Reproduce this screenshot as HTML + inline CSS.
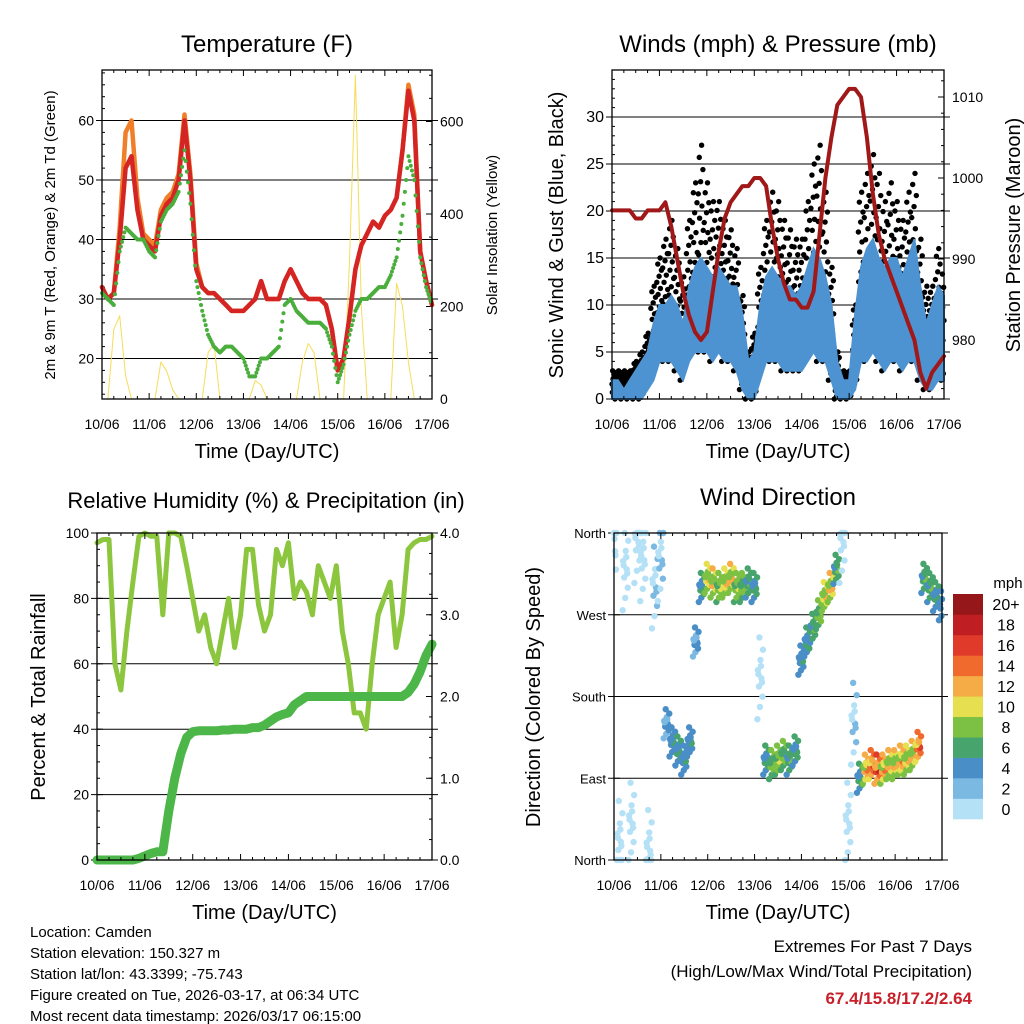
<!DOCTYPE html>
<html><head><meta charset="utf-8">
<style>
html,body{margin:0;padding:0;background:#fff;}
svg{display:block;font-family:"Liberation Sans",sans-serif;}
</style></head>
<body>
<svg id="c" width="1024" height="1024" xmlns="http://www.w3.org/2000/svg"></svg>
<script>
// ---- data (3-hourly samples, 10/06 00Z to 17/06 00Z) ----
const dayLabels=["10/06","11/06","12/06","13/06","14/06","15/06","16/06","17/06"];
const temp2m=[32,30,31,40,52,54,45,40, 39,38,44,46,47,50,60,50, 35,32,31,31,30,29,28,28, 28,29,30,33,30,30,30,33, 35,33,31,30,30,30,29,25, 18,20,27,35,39,41,43,42, 44,45,47,55,65,60,38,33, 29];
const temp9m=[32,30,31,42,58,60,47,41, 40,39,45,47,48,51,61,51, 36,32,31,31,30,29,28,28, 28,29,30,33,30,30,30,33, 35,33,31,30,30,30,29,25, 18,20,27,35,39,41,43,42, 44,45,47,55,66,61,38,33, 29];
const dewpt=[31,30,29,38,42,41,40,40, 38,37,43,45,46,48,55,46, 33,28,24,22,21,22,22,21, 20,17,17,20,20,21,22,29, 30,28,27,26,26,26,25,22, 16,19,24,28,30,30,31,32, 32,34,37,44,54,50,37,32, 29];
const solar=[0,0,150,180,50,0,0,0, 0,0,80,60,20,0,0,0, 0,0,100,120,0,0,0,0, 0,0,40,30,0,0,0,0, 0,0,80,120,100,0,0,0, 0,0,300,700,200,0,0,0, 0,0,250,200,80,0,0,0, 0];
const windHigh=[2,2,1,2,3,4,5,8, 10,10,11,10,8,12,14,15, 14,13,14,13,12,12,9,4, 5,10,13,14,13,12,12,11, 12,14,16,15,13,10,4,2, 2,9,14,16,17,15,14,15, 15,13,15,17,12,8,10,12, 11];
const windLow=[0,0,0,0,0,0,1,2, 4,4,4,3,2,4,5,5, 5,4,5,4,4,3,1,0, 0,2,4,4,4,3,3,3, 3,4,5,4,4,2,0,0, 0,1,4,4,5,4,3,4, 4,3,4,4,2,1,1,2, 2];
const windGust=[3,3,3,3,4,5,7,12, 15,17,19,16,13,19,23,27, 23,21,21,19,18,16,11,5, 7,14,19,22,21,19,18,17, 17,21,25,27,22,14,5,3, 3,10,22,24,26,24,21,23, 21,19,22,24,17,12,12,16, 14];
const pressure=[996,996,996,996,995,995,996,996, 996,997,994,990,986,983,981,980, 981,986,991,995,997,998,999,999, 1000,1000,999,994,990,987,985,985, 984,984,986,993,1000,1005,1009,1010, 1011,1011,1010,1005,998,993,990,988, 986,984,982,980,976,974,976,977, 978];
const rh=[97,98,98,60,52,70,85,99, 100,99,99,75,100,100,99,90, 80,70,75,65,60,70,80,65, 75,95,95,78,70,75,95,90, 97,80,85,82,75,90,85,80, 90,70,60,45,45,40,60,75, 80,85,65,75,95,97,98,98, 99];
const precip=[0,0,0,0,0,0,0,0.02, 0.05,0.08,0.1,0.1,0.6,1.0,1.3,1.5, 1.57,1.58,1.58,1.58,1.58,1.59,1.59,1.6, 1.6,1.6,1.62,1.62,1.65,1.7,1.75,1.78, 1.8,1.9,1.95,2.0,2.0,2.0,2.0,2.0, 2.0,2.0,2.0,2.0,2.0,2.0,2.0,2.0, 2.0,2.0,2.0,2.0,2.05,2.15,2.3,2.5, 2.64];
const windDir=[340,20,320,40,350,330,10,300, 330,150,130,120,110,130,240,300, 310,305,300,305,310,300,300,305, 300,200,110,105,110,115,110,120, 220,240,255,270,290,300,320,350, 40,150,90,100,105,100,100,105, 105,110,110,115,125,310,300,290, 280];
const dirSpeed=[1,1,1,1,1,1,1,2, 2,4,5,6,5,5,4,6, 10,11,9,10,11,9,8,7, 6,1,6,8,9,8,7,6, 5,6,7,8,10,11,7,1, 1,2,6,12,14,15,12,11, 11,12,10,11,14,7,7,6, 5];
const cbLabels=["0","2","4","6","8","10","12","14","16","18","20+"];
const cbColors=["#b5e1f7","#7bb9e3","#4a8ec8","#47a46c","#7cc143","#e6e051","#f5ab46","#ef6a2c","#df3a2a","#bf1e22","#951719"];

const NS="http://www.w3.org/2000/svg";
const svg=document.getElementById('c');
function el(tag,attrs,parent){const e=document.createElementNS(NS,tag);for(const k in attrs)e.setAttribute(k,attrs[k]);(parent||svg).appendChild(e);return e;}
function txt(x,y,s,size,anchor,parent,extra){const t=el('text',Object.assign({x:x,y:y,'font-size':size,'text-anchor':anchor||'middle',fill:'#000'},extra||{}),parent);t.textContent=s;return t;}
const N=temp2m.length;
function dayOf(i){return i*7/(N-1);}

function panel(name,x0,x1,y0,y1){
  const g=el('g',{});
  
  
  return {g,x0,x1,y0,y1,xs:d=>x0+(x1-x0)*d/7};
}
function frame(P){
  el('rect',{x:P.x0,y:P.y0,width:P.x1-P.x0,height:P.y1-P.y0,fill:'none',stroke:'#000','stroke-width':1.3},P.g);
  const xa=el('g',{},P.g);
  
  
  for(let d=0;d<=7;d++){
    const x=P.xs(d);
    el('line',{x1:x,x2:x,y1:P.y1,y2:P.y1-6,stroke:'#000'},xa);
    el('line',{x1:x,x2:x,y1:P.y0,y2:P.y0+6,stroke:'#000'},xa);
    const t=txt(x,P.y1+30,dayLabels[d],14,'middle',xa);
    
    
    if(d<7){for(let h=1;h<4;h++){const xm=P.xs(d+h/4);el('line',{x1:xm,x2:xm,y1:P.y1,y2:P.y1-3,stroke:'#000'},xa);el('line',{x1:xm,x2:xm,y1:P.y0,y2:P.y0+3,stroke:'#000'},xa);}}
  }
  const xt=txt((P.x0+P.x1)/2,P.y1+59,'Time (Day/UTC)',20,'middle',P.g);
  
  
}
function leftAxis(P,ys,ticks,fmt,grid,minor,size){
  const a=el('g',{},P.g);
  
  
  ticks.forEach(v=>{const y=ys(v);
    if(grid) el('line',{x1:P.x0-6,x2:P.x1+6,y1:y,y2:y,stroke:'#000','stroke-width':1},a);
    el('line',{x1:P.x0,x2:P.x0+6,y1:y,y2:y,stroke:'#000'},a);
    const t=txt(P.x0-8,y+5,fmt(v),size||14,'end',a);
    
    });
  (minor||[]).forEach(v=>{const y=ys(v);el('line',{x1:P.x0,x2:P.x0+3,y1:y,y2:y,stroke:'#000'},a);});
}
function rightAxis(P,ys,ticks,fmt,minor){
  const a=el('g',{},P.g);
  
  
  ticks.forEach(v=>{const y=ys(v);
    el('line',{x1:P.x1,x2:P.x1-6,y1:y,y2:y,stroke:'#000'},a);
    const t=txt(P.x1+8,y+5,fmt(v),14,'start',a);
    
    });
  (minor||[]).forEach(v=>{const y=ys(v);el('line',{x1:P.x1,x2:P.x1-3,y1:y,y2:y,stroke:'#000'},a);});
}
function line(P,arr,ys,color,w,name){
  const d=arr.map((v,i)=>(i?'L':'M')+P.xs(dayOf(i)).toFixed(1)+','+ys(v).toFixed(1)).join('');
  const p=el('path',{d:d,fill:'none',stroke:color,'stroke-width':w,'stroke-linejoin':'round','stroke-linecap':'round'},P.g);
  
  
  return p;
}
function title(x,y,s,size,name){const t=txt(x,y,s,size||24,'middle');return t;}
function vtitle(x,y,s,size,name){const t=txt(x,y,s,size,'middle',svg,{transform:`rotate(-90 ${x} ${y})`});return t;}
const range=(a,b,s)=>{const r=[];for(let v=a;v<=b+1e-9;v+=s)r.push(+v.toFixed(3));return r;};

// ---- Panel 1: Temperature ----
{
  const P=panel('temperature-panel',102,432,70,399);
  const ys=v=>299-(v-30)*5.95;
  const ys2=v=>399-v*0.4625;
  leftAxis(P,ys,[20,30,40,50,60],v=>v,true,range(14,68,2));
  rightAxis(P,ys2,[0,200,400,600],v=>v,range(0,700,50));
  line(P,solar,ys2,'#f5dc5a',1,'solar-insolation-line');
  line(P,temp9m,ys,'#f07f2a',4.5,'temp-9m-line');
  line(P,temp2m,ys,'#d42424',4.5,'temp-2m-line');
  const dg=el('g',{},P.g);
  
  
  for(let i=0;i<N-1;i++){for(let k=0;k<5;k++){const f=k/5;const v=dewpt[i]+(dewpt[i+1]-dewpt[i])*f;
    el('circle',{cx:P.xs(dayOf(i)+f*7/(N-1)),cy:ys(v),r:2,fill:'#4aae3c'},dg);}}
  frame(P);
  svg.appendChild(P.g);
  title(267,52,'Temperature (F)',24,'temperature-title');
  vtitle(55,235,'2m & 9m T (Red, Orange) & 2m Td (Green)',15,'temperature-y-title');
  vtitle(497,235,'Solar Insolation (Yellow)',15,'solar-y-title');
}
// ---- Panel 2: Winds ----
{
  const P=panel('winds-panel',612,944,70,399);
  const ys=v=>399-v*9.4;
  const ys2=v=>340-(v-980)*8.1;
  leftAxis(P,ys,[0,5,10,15,20,25,30],v=>v,true,range(0,34,1),16);
  rightAxis(P,ys2,[980,990,1000,1010],v=>v,range(974,1012,2));
  const gg=el('g',{},P.g);
  
  
  const M=18;
  for(let i=0;i<N;i++){for(let k=0;k<M;k++){
    const d=dayOf(i)+(((k*7)%M)/M-0.5)*0.125;if(d<0||d>7)continue;
    const v=windLow[i]+(windGust[i]-windLow[i])*(k/(M-1));
    el('circle',{cx:P.xs(d),cy:ys(Math.max(0,v)),r:2.7,fill:'#000'},gg);}}
  const bd=windHigh.map((v,i)=>(i?'L':'M')+P.xs(dayOf(i)).toFixed(1)+','+ys(v).toFixed(1)).join('')+
    windLow.map((v,i)=>i).reverse().map(i=>'L'+P.xs(dayOf(i)).toFixed(1)+','+ys(windLow[i]).toFixed(1)).join('')+'Z';
  const band=el('path',{d:bd,fill:'#4e93d1',stroke:'#4e93d1','stroke-width':2},P.g);
  
  
  line(P,pressure,ys2,'#a01818',4,'pressure-line');
  frame(P);
  svg.appendChild(P.g);
  title(778,52,'Winds (mph) & Pressure (mb)',24,'winds-title');
  vtitle(563,235,'Sonic Wind & Gust (Blue, Black)',20,'winds-y-title');
  vtitle(1020,235,'Station Pressure (Maroon)',20,'pressure-y-title');
}
// ---- Panel 3: RH & precip ----
{
  const P=panel('humidity-panel',97,432,533,860);
  const ys=v=>860-v*3.27;
  const ys2=v=>860-v*81.75;
  leftAxis(P,ys,[0,20,40,60,80,100],v=>v,true,range(0,100,5));
  rightAxis(P,ys2,[0,1,2,3,4],v=>v.toFixed(1),range(0,4,0.25));
  line(P,rh,ys,'#8cc63e',5,'relative-humidity-line');
  line(P,precip,ys2,'#4cb748',9,'precipitation-line');
  frame(P);
  svg.appendChild(P.g);
  title(266,508,'Relative Humidity (%) & Precipitation (in)',22,'humidity-title');
  vtitle(45,697,'Percent & Total Rainfall',20,'humidity-y-title');
}
// ---- Panel 4: Wind direction ----
{
  const P=panel('wind-direction-panel',614,942,533,860);
  const ys=v=>860-v*327/360;
  const dl=["North","East","South","West","North"];
  leftAxis(P,ys,[0,90,180,270,360],v=>dl[v/90],true,[],13);
  const dg=el('g',{},P.g);
  
  
  const off=[-1,-0.7,-0.45,-0.2,0,0.2,0.45,0.7,1,-0.1,0.1,0.3];
  for(let i=0;i<N;i++){for(let k=0;k<off.length;k++){
    const d=dayOf(i)+(((k*5)%12)/12-0.5)*0.13;if(d<0||d>7)continue;
    const spread=dirSpeed[i]<3?45:16;
    let v=windDir[i]+off[k]*spread;
    v=Math.max(0,Math.min(360,v));
    const spd=dirSpeed[i]*(0.8+0.1*(k%5));
    const ci=Math.max(0,Math.min(10,Math.floor(spd/2)));
    el('circle',{cx:P.xs(d),cy:ys(v),r:3.2,fill:cbColors[ci]},dg);}}
  frame(P);
  svg.appendChild(P.g);
  title(778,505,'Wind Direction',24,'wind-direction-title');
  vtitle(540,697,'Direction (Colored By Speed)',20,'wind-direction-y-title');
  const cb=el('g',{});
  
  
  const bh=225/cbColors.length;
  cbColors.forEach((c,i)=>{
    const y=819-(i+1)*bh;
    el('rect',{x:953,y:y,width:30,height:bh+0.3,fill:c},cb);
    txt(1006,y+bh/2+6,cbLabels[i],16,'middle',cb);
  });
  txt(1008,588,'mph',15,'middle',cb);
}
// ---- footer ----
const foot=["Location: Camden","Station elevation: 150.327 m","Station lat/lon: 43.3399; -75.743","Figure created on Tue, 2026-03-17, at 06:34 UTC","Most recent data timestamp: 2026/03/17 06:15:00"];
foot.forEach((s,i)=>{const t=txt(30,937+i*21,s,15,'start');});
{const t=txt(972,952,'Extremes For Past 7 Days',17,'end');}
{const t=txt(972,977,'(High/Low/Max Wind/Total Precipitation)',17,'end');}
{const t=txt(972,1004,'67.4/15.8/17.2/2.64',17,'end',svg,{fill:'#c8202a','font-weight':'bold'});}
</script>
</body></html>
